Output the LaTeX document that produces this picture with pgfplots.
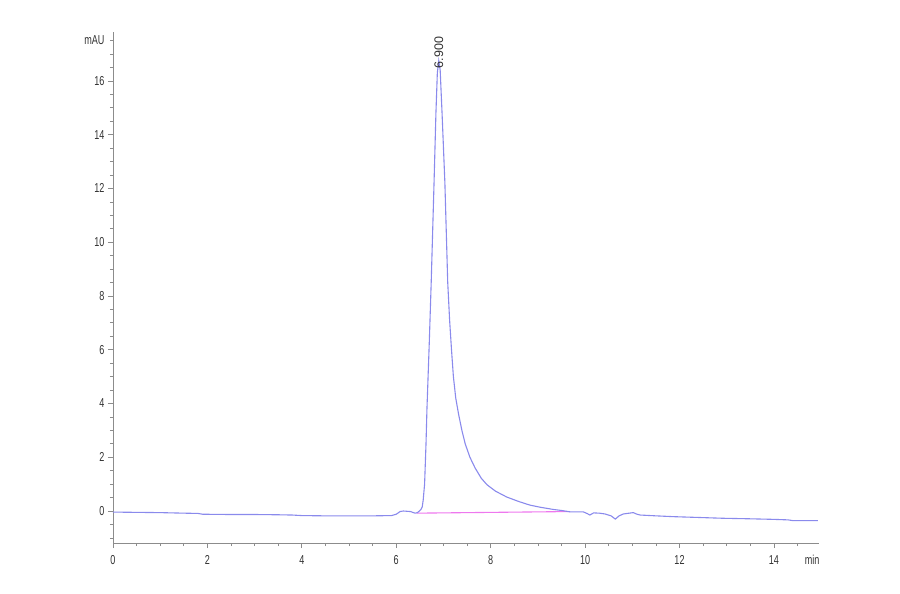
\documentclass[border=0pt]{standalone}
\usepackage{pgfplots}
\pgfplotsset{compat=1.18}
\usepackage{fontspec}
\setmainfont{Liberation Sans}[FakeStretch=0.70]
\newfontfamily\peakfont{Liberation Sans}

\definecolor{trace}{RGB}{138,138,236}
\definecolor{base}{RGB}{238,120,238}
\definecolor{axgray}{RGB}{140,140,140}
\definecolor{txt}{RGB}{50,50,50}

\begin{document}
\begin{tikzpicture}
  % page frame, same margins as the reference
  \path[use as bounding box] (-113bp,-51bp) rectangle (787bp,543bp);
  \begin{axis}[%
    scale only axis,
    width=705.8bp, height=511bp,
    % x-axis
    xmin=0, xmax=14.95,
    xtick={0,2,...,14},
    minor xtick={0.5,1,...,14.5},
    xticklabel style={yshift=-4bp},
    extra x ticks={14.81},
    extra x tick labels={min},
    extra x tick style={major tick length=0pt, xticklabel style={yshift=-5bp}},
    % y-axis
    ymin=-1.19, ymax=17.82,
    ytick={0,2,...,16},
    minor ytick={-1,-0.5,...,17},
    extra y ticks={17.5},
    extra y tick labels={mAU},
    extra y tick style={major tick length=3bp, yticklabel style={xshift=-2bp}},
    axis lines=left,
    axis line style={axgray, -, line width=0.9pt},
    tick align=outside,
    major tick length=5bp, minor tick length=3bp,
    tick style={axgray, line width=0.7pt},
    every tick label/.append style={font=\fontsize{13}{14}\selectfont, text=txt},
    /pgf/number format/assume math mode=true,
    clip=false,
    ]

    % integration baseline
    \addplot[color=base, line width=1.1bp] coordinates {
      (6.43,-0.08) (9.68,-0.02)
    };

    % signal trace
    \addplot[color=trace, line width=1.1bp] coordinates {
      (0,-0.04) (0.5,-0.05) (1.0,-0.06) (1.5,-0.08) (1.8,-0.09) (1.9,-0.12)
      (2.5,-0.13) (3.0,-0.13) (3.5,-0.14) (3.8,-0.15) (4.0,-0.17) (4.5,-0.18)
      (5.0,-0.18) (5.5,-0.18) (5.9,-0.17) (6.0,-0.12) (6.08,-0.02) (6.15,0.0)
      (6.3,-0.02) (6.4,-0.08) (6.45,-0.06) (6.52,0.05) (6.55,0.15) (6.57,0.4)
      (6.60,1.0) (6.63,2.5) (6.65,3.8) (6.70,6.3) (6.74,8.5) (6.80,12.2)
      (6.84,14.8) (6.87,16.3) (6.90,16.75) (6.93,16.4) (6.97,14.8) (7.03,12.2)
      (7.09,8.5) (7.13,7.1) (7.17,6.0) (7.21,5.0) (7.26,4.2) (7.32,3.6)
      (7.39,3.0) (7.46,2.5) (7.56,2.0) (7.67,1.6) (7.80,1.22) (7.92,0.98)
      (8.10,0.74) (8.34,0.52) (8.60,0.35) (8.83,0.22) (9.05,0.14) (9.32,0.06)
      (9.50,0.02) (9.68,-0.03) (9.96,-0.03) (10.05,-0.10) (10.10,-0.15)
      (10.18,-0.07) (10.30,-0.08) (10.42,-0.11) (10.55,-0.18) (10.64,-0.30)
      (10.72,-0.18) (10.81,-0.11) (11.02,-0.06) (11.10,-0.12) (11.17,-0.15)
      (11.50,-0.18) (11.87,-0.21) (12.40,-0.24) (12.92,-0.27) (13.50,-0.29)
      (13.98,-0.31) (14.30,-0.33) (14.41,-0.36) (14.93,-0.36)
    };

    % retention time of the peak
    \node[rotate=90, anchor=west, inner sep=0.5bp, text=txt,
          font=\peakfont\fontsize{12.5}{13}\selectfont]
      at (axis cs:6.9,16.45) {6.900};
  \end{axis}
\end{tikzpicture}
\end{document}
